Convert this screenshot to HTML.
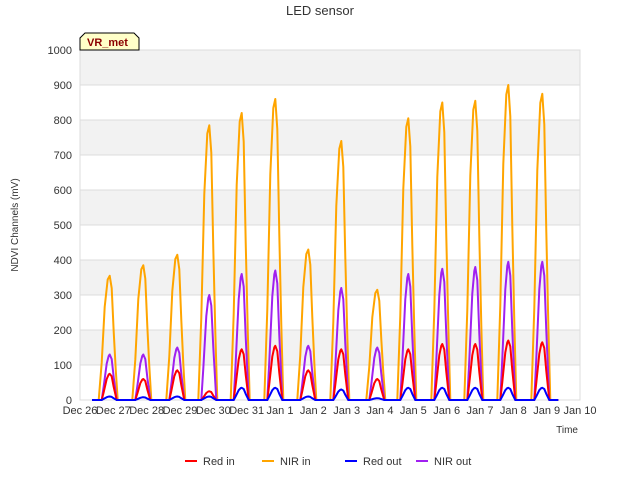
<!DOCTYPE html>
<html><head><meta charset="utf-8"><style>
body{margin:0;background:#fff;font-family:"Liberation Sans",sans-serif}
svg text{font-family:"Liberation Sans",sans-serif}
</style></head><body>
<svg id="chart" width="640" height="480">
<rect width="640" height="480" fill="#fff"/>
<text x="320" y="15" text-anchor="middle" font-size="13" fill="#333">LED sensor</text>
<g id="grid"></g>
<g id="series"></g>
<g id="axes"></g>
<text x="18" y="225" transform="rotate(-90 18 225)" text-anchor="middle" font-size="10" fill="#333">NDVI Channels (mV)</text>
<text x="578" y="433" text-anchor="end" font-size="10" fill="#333">Time</text>
<g>
<path d="M80,50 L80,38 L85,33 L134,33 L139,38 L139,50 Z" fill="#ffffc8" stroke="#000" stroke-width="1"/>
<text x="87" y="46" font-size="11" font-weight="bold" fill="#8b0000">VR_met</text>
</g>
<g id="legend"></g>
</svg>
<script>
const yTicks=[0,100,200,300,400,500,600,700,800,900,1000];
const xTickLabels=["Dec 26","Dec 27","Dec 28","Dec 29","Dec 30","Dec 31","Jan 1","Jan 2","Jan 3","Jan 4","Jan 5","Jan 6","Jan 7","Jan 8","Jan 9","Jan 10"];
const peakDays=[0.89,1.9,2.92,3.88,4.85,5.86,6.85,7.84,8.92,9.85,10.87,11.86,12.85,13.87];
const nirIn=[355,385,415,785,820,860,430,740,315,805,850,855,900,875];
const nirOut=[130,130,150,300,360,370,155,320,150,360,375,380,395,395];
const redIn=[75,60,85,25,145,155,85,145,60,145,160,160,170,165];
const redOut=[10,8,10,10,35,35,10,30,5,35,35,35,35,35];
const names=["Red in","NIR in","Red out","NIR out"];
const colors=["#ff0000","#ffa500","#0000ff","#a020f0"];
const X0=80,X1=580,Y0=400,Y1=50;
const xs=d=>X0+d*(X1-X0)/15;
const ys=v=>Y0-v*(Y0-Y1)/1000;
const NS="http://www.w3.org/2000/svg";
const grid=document.getElementById('grid'),axes=document.getElementById('axes'),ser=document.getElementById('series'),leg=document.getElementById('legend');
function mk(tag,attrs,parent){const e=document.createElementNS(NS,tag);for(const k in attrs)e.setAttribute(k,attrs[k]);parent.appendChild(e);return e;}
for(let i=0;i<yTicks.length-1;i++){
  if(i%2===1){const b=mk('rect',{x:X0,y:ys(yTicks[i+1]),width:X1-X0,height:ys(yTicks[i])-ys(yTicks[i+1]),fill:'#f2f2f2'},grid);
  
  }
}
yTicks.forEach(v=>{
  const l=mk('line',{x1:X0,x2:X1,y1:ys(v),y2:ys(v),stroke:'#dcdcdc','stroke-width':1},grid);
  
  
  const t=mk('text',{x:X0-8,y:ys(v)+4,'text-anchor':'end','font-size':11,fill:'#333'},axes);
  t.textContent=v;
  
  
});
mk('rect',{x:X0,y:Y1,width:X1-X0,height:Y0-Y1,fill:'none',stroke:'#dcdcdc'},grid);
xTickLabels.forEach((s,i)=>{
  const t=mk('text',{x:xs(i),y:414,'text-anchor':'middle','font-size':11,fill:'#333'},axes);
  t.textContent=s;
  
  
});
// bump profile (shape only): offsets in px and relative height
const profs={wide:[[-11,0],[-8,0.3],[-5,0.75],[-2,0.97],[0,1],[2,0.9],[4,0.55],[6,0.25],[8,0]],narrow:[[-8,0],[-6,0.3],[-3,0.8],[-1,0.97],[0,1],[2,0.9],[4,0.5],[7,0]]};
const dayPx=(X1-X0)/15;
const allSeries=[redIn,nirIn,redOut,nirOut];
[1,3,0,2].forEach(si=>{
  const vals=allSeries[si];
  const prof=si===1?profs.wide:profs.narrow;
  let pts=[[xs(0.36),ys(0)]];
  peakDays.forEach((d,i)=>{
    prof.forEach(([o,f])=>pts.push([xs(d+o/dayPx),ys(vals[i]*f)]));
  });
  pts.push([xs(14.35),ys(0)]);
  const p=mk('path',{d:'M'+pts.map(p=>p[0].toFixed(1)+','+p[1].toFixed(1)).join('L'),fill:'none',stroke:colors[si],'stroke-width':2,'stroke-linejoin':'round'},ser);
  
  
});
const lx=[185,262,345,416];
names.forEach((n,i)=>{
  const g=mk('g',{},leg);
  
  
  mk('line',{x1:lx[i],x2:lx[i]+12,y1:461,y2:461,stroke:colors[i],'stroke-width':2},g);
  const t=mk('text',{x:lx[i]+18,y:465,'font-size':11,fill:'#333'},g);
  t.textContent=n;
});
</script>
</body></html>
